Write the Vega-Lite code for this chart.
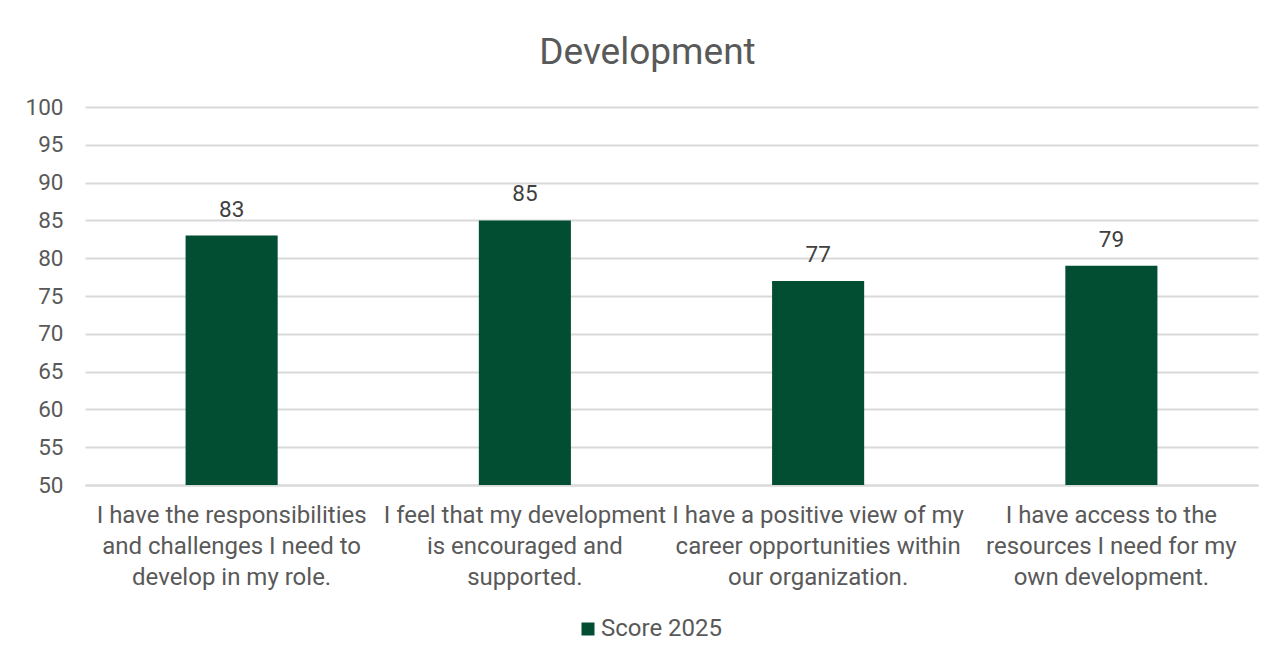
{
  "$schema": "https://vega.github.io/schema/vega-lite/v6.json",
  "width": 1173,
  "height": 378,
  "autosize": "none",
  "padding": {"left": 85, "top": 107, "right": 25, "bottom": 172},
  "background": "white",
  "title": {
    "text": "Development",
    "font": "Roboto",
    "fontSize": 37,
    "fontWeight": "normal",
    "color": "#595959",
    "anchor": "middle",
    "dx": -24,
    "offset": 24
  },
  "data": {
    "values": [
      {"question": "I have the responsibilities\nand challenges I need to\ndevelop in my role.", "series": "Score 2025", "score": 83},
      {"question": "I feel that my development\nis encouraged and\nsupported.", "series": "Score 2025", "score": 85},
      {"question": "I have a positive view of my\ncareer opportunities within\nour organization.", "series": "Score 2025", "score": 77},
      {"question": "I have access to the\nresources I need for my\nown development.", "series": "Score 2025", "score": 79}
    ]
  },
  "encoding": {
    "x": {
      "field": "question",
      "type": "nominal",
      "sort": null,
      "scale": {"paddingInner": 0.686, "paddingOuter": 0.343},
      "axis": {
        "title": null,
        "labelAngle": 0,
        "labelExpr": "split(datum.value, '\\n')",
        "labelFont": "Roboto",
        "labelFontSize": 24,
        "labelColor": "#595959",
        "labelLineHeight": 31,
        "labelPadding": 18,
        "labelLimit": 400,
        "labelOverlap": false,
        "ticks": false,
        "domainColor": "#d9d9d9",
        "domainWidth": 2,
        "labelBaseline": "top"
      }
    },
    "y": {
      "field": "score",
      "type": "quantitative",
      "scale": {"domain": [50, 100], "nice": false, "zero": false},
      "axis": {
        "title": null,
        "values": [50, 55, 60, 65, 70, 75, 80, 85, 90, 95, 100],
        "labelFont": "Roboto",
        "labelFontSize": 22.5,
        "labelColor": "#595959",
        "labelPadding": 22,
        "ticks": false,
        "domain": false,
        "gridColor": "#d9d9d9",
        "gridWidth": 2
      }
    }
  },
  "layer": [
    {
      "mark": {"type": "bar", "clip": true},
      "encoding": {
        "y2": {"datum": 50},
        "color": {
          "field": "series",
          "type": "nominal",
          "scale": {"range": ["#024e33"]},
          "legend": {
            "title": null,
            "orient": "none",
            "legendX": 491,
            "legendY": 510,
            "symbolType": "square",
            "symbolSize": 169,
            "symbolStrokeWidth": 0,
            "labelFont": "Roboto",
            "labelFontSize": 24,
            "labelColor": "#595959",
            "labelOffset": 1
          }
        }
      }
    },
    {
      "mark": {"type": "text", "baseline": "bottom", "dy": -14, "font": "Roboto", "fontSize": 22.5, "color": "#404040"},
      "encoding": {"text": {"field": "score", "type": "quantitative"}}
    }
  ],
  "config": {"view": {"stroke": null}}
}
